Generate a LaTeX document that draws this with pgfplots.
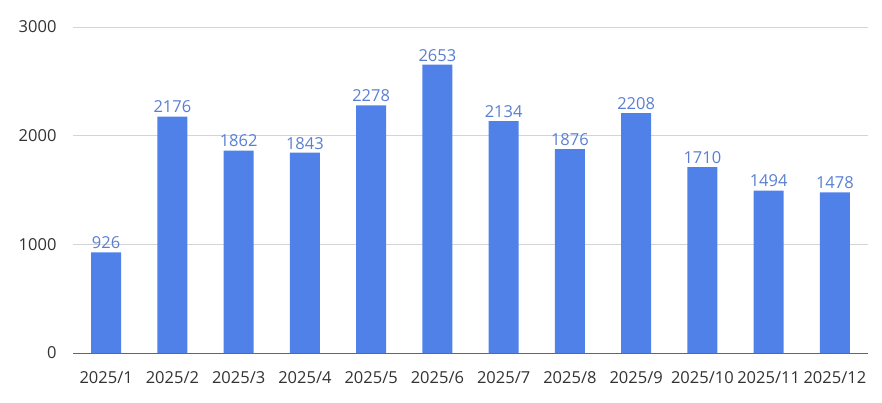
\documentclass[border=0pt]{standalone}
\usepackage{pgfplots}
\pgfplotsset{compat=1.18}
\usepackage{fontspec}
\setmainfont{Open Sans}
\definecolor{barblue}{HTML}{4F81E9}
\definecolor{lblblue}{HTML}{5A7FD2}
\definecolor{ticktext}{HTML}{333333}
\begin{document}
\begin{tikzpicture}[x=1pt,y=1pt]
\begin{axis}[
  at={(73pt,49pt)}, anchor=south west,
  scale only axis, width=795pt, height=326pt,
  xmin=-0.5, xmax=11.5, ymin=0, ymax=3000,
  xtick={0,...,11},
  xticklabels={2025/1,2025/2,2025/3,2025/4,2025/5,2025/6,2025/7,2025/8,2025/9,2025/10,2025/11,2025/12},
  ytick={0,1000,2000,3000},
  /pgf/number format/assume math mode=true,
  /pgf/number format/1000 sep={},
  axis x line*=bottom, axis y line*=left,
  x axis line style={draw=black!60, line width=1pt, -},
  y axis line style={draw=none},
  ymajorgrids, grid style={draw=black!17, line width=0.8pt},
  major tick length=0pt,
  tick label style={font=\fontsize{16.5}{18}\selectfont, text=ticktext},
  xticklabel style={yshift=-15pt},
  yticklabel style={xshift=-13pt},
  ybar, bar width=30pt,
  nodes near coords,
  every node near coord/.append style={font=\fontsize{16.5}{18}\selectfont, text=lblblue, yshift=0pt},
  clip=false,
]
\addplot[fill=barblue, draw=none] coordinates {
(0,926) (1,2176) (2,1862) (3,1843) (4,2278) (5,2653) (6,2134) (7,1876) (8,2208) (9,1710) (10,1494) (11,1478)};
\end{axis}
\pgfresetboundingbox
\useasboundingbox (0,0) rectangle (882pt,402pt);
\end{tikzpicture}
\end{document}
